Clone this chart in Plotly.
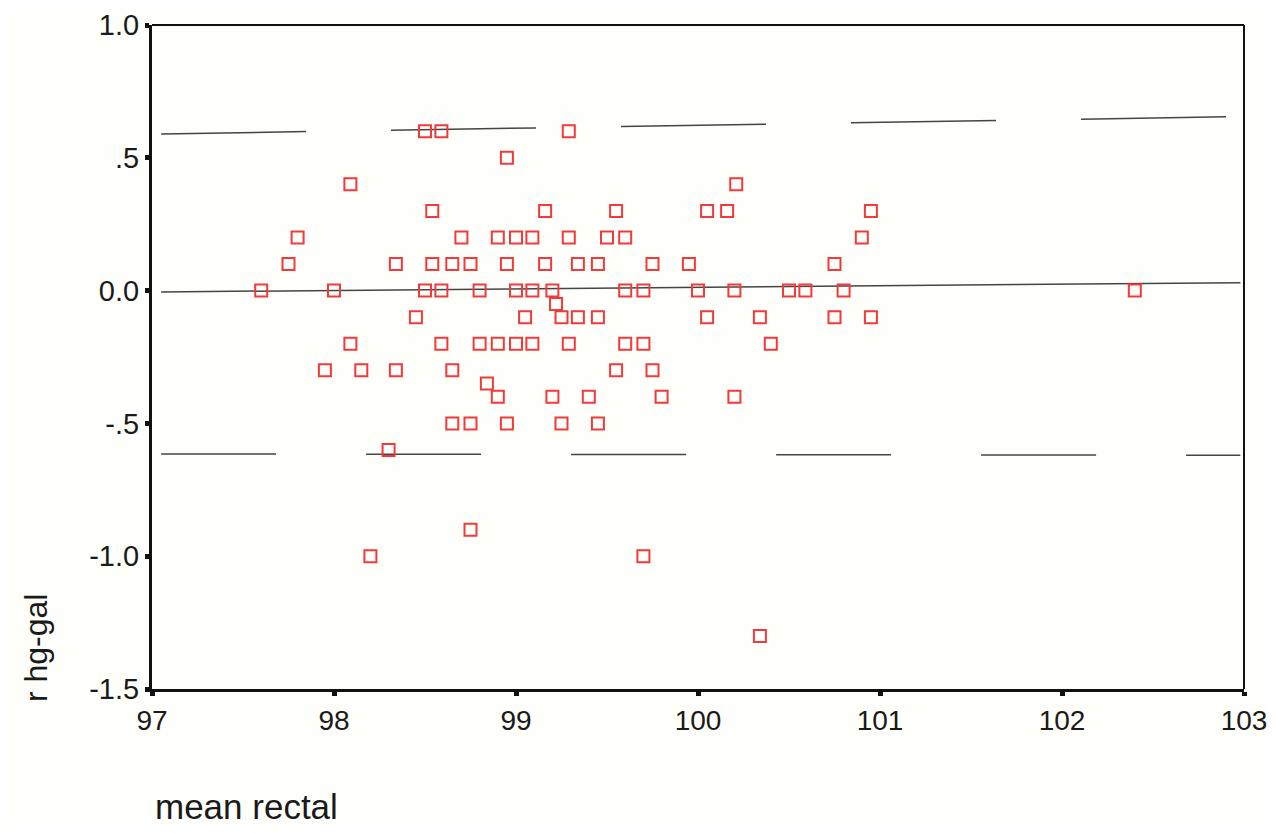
import plotly.graph_objects as go

# Data
x_vals = [98.50, 98.59, 99.29,
          98.95,
          98.09, 100.21,
          98.54, 99.16, 99.55, 100.05, 100.16, 100.95,
          97.80, 98.70, 98.90, 99.00, 99.09, 99.29, 99.50, 99.60, 100.90,
          97.75, 98.34, 98.54, 98.65, 98.75, 98.95, 99.16, 99.34, 99.45, 99.75, 99.95, 100.75,
          97.60, 98.00, 98.50, 98.59, 98.80, 99.00, 99.09, 99.20, 99.60, 99.70, 100.00, 100.20, 100.50, 100.59, 100.80, 102.40,
          99.22,
          98.45, 99.05, 99.25, 99.34, 99.45, 100.05, 100.34, 100.75, 100.95,
          98.09, 98.59, 98.80, 98.90, 99.00, 99.09, 99.29, 99.60, 99.70, 100.40,
          97.95, 98.15, 98.34, 98.65, 99.55, 99.75,
          98.84,
          98.90, 99.20, 99.40, 99.80, 100.20,
          98.65, 98.75, 98.95, 99.25, 99.45,
          98.30,
          98.75,
          98.20, 99.70,
          100.34]
y_vals = [0.6] * 3 + [0.5] + [0.4] * 2 + [0.3] * 6 + [0.2] * 9 + [0.1] * 12 + [0.0] * 16 + [-0.05] + \
         [-0.1] * 9 + [-0.2] * 10 + [-0.3] * 6 + [-0.35] + [-0.4] * 5 + [-0.5] * 5 + [-0.6] + [-0.9] + \
         [-1.0] * 2 + [-1.3]

line_x = [97.05, 102.98]
mean_line = [-0.005, 0.03]
upper_line = [0.59, 0.655]
lower_line = [-0.615, -0.62]

y_tickvals = [1.0, 0.5, 0.0, -0.5, -1.0, -1.5]
y_ticktext = ["1.0", ".5", "0.0", "-.5", "-1.0", "-1.5"]
x_tickvals = [97, 98, 99, 100, 101, 102, 103]

line_col = "#454545"
fig = go.Figure()
fig.add_trace(go.Scatter(x=line_x, y=upper_line, mode="lines",
                         line=dict(color=line_col, width=1.5, dash="145px,85px"), hoverinfo="skip"))
fig.add_trace(go.Scatter(x=line_x, y=lower_line, mode="lines",
                         line=dict(color=line_col, width=1.5, dash="115px,90px"), hoverinfo="skip"))
fig.add_trace(go.Scatter(x=line_x, y=mean_line, mode="lines",
                         line=dict(color=line_col, width=1.5), hoverinfo="skip"))
fig.add_trace(go.Scatter(x=x_vals, y=y_vals, mode="markers",
                         marker=dict(symbol="square-open", size=12, color="#f23a3a",
                                     line=dict(width=2, color="#f23a3a"))))

font = "Liberation Sans, Arial, sans-serif"
fig.update_layout(
    width=1268, height=817,
    margin=dict(l=144, r=32, t=17, b=136, autoexpand=False),
    paper_bgcolor="#fefefb", plot_bgcolor="#fefefb",
    showlegend=False,
    font=dict(family=font, size=29, color="#1a1a1a"),
    xaxis=dict(range=[97, 103], tickvals=x_tickvals, showgrid=False, zeroline=False,
               showline=True, linecolor="#111", linewidth=3, automargin=False,
               ticks="outside", ticklen=4, tickwidth=5, tickcolor="#111",
               tickfont=dict(size=28, family=font)),
    yaxis=dict(range=[-1.5, 1.0], tickvals=y_tickvals, ticktext=y_ticktext, showgrid=False,
               zeroline=False, showline=True, linecolor="#111", linewidth=3, automargin=False,
               ticks="outside", ticklen=4, tickwidth=5, tickcolor="#111",
               tickfont=dict(size=29, family=font)),
    shapes=[
        dict(type="line", xref="paper", yref="paper", x0=0, x1=1, y0=1, y1=1,
             line=dict(color="#111", width=2)),
        dict(type="line", xref="paper", yref="paper", x0=1, x1=1, y0=0, y1=1,
             line=dict(color="#111", width=2)),
    ],
    annotations=[
        dict(text="r hg-gal", xref="paper", yref="paper", x=-0.106, y=0.062,
             textangle=-90, showarrow=False, font=dict(size=32, family=font),
             xanchor="center", yanchor="middle"),
        dict(text="mean rectal", xref="paper", yref="paper", x=0.001, y=-0.177,
             showarrow=False, font=dict(size=35, family=font),
             xanchor="left", yanchor="middle"),
    ],
)

fig.write_html("out.html")
